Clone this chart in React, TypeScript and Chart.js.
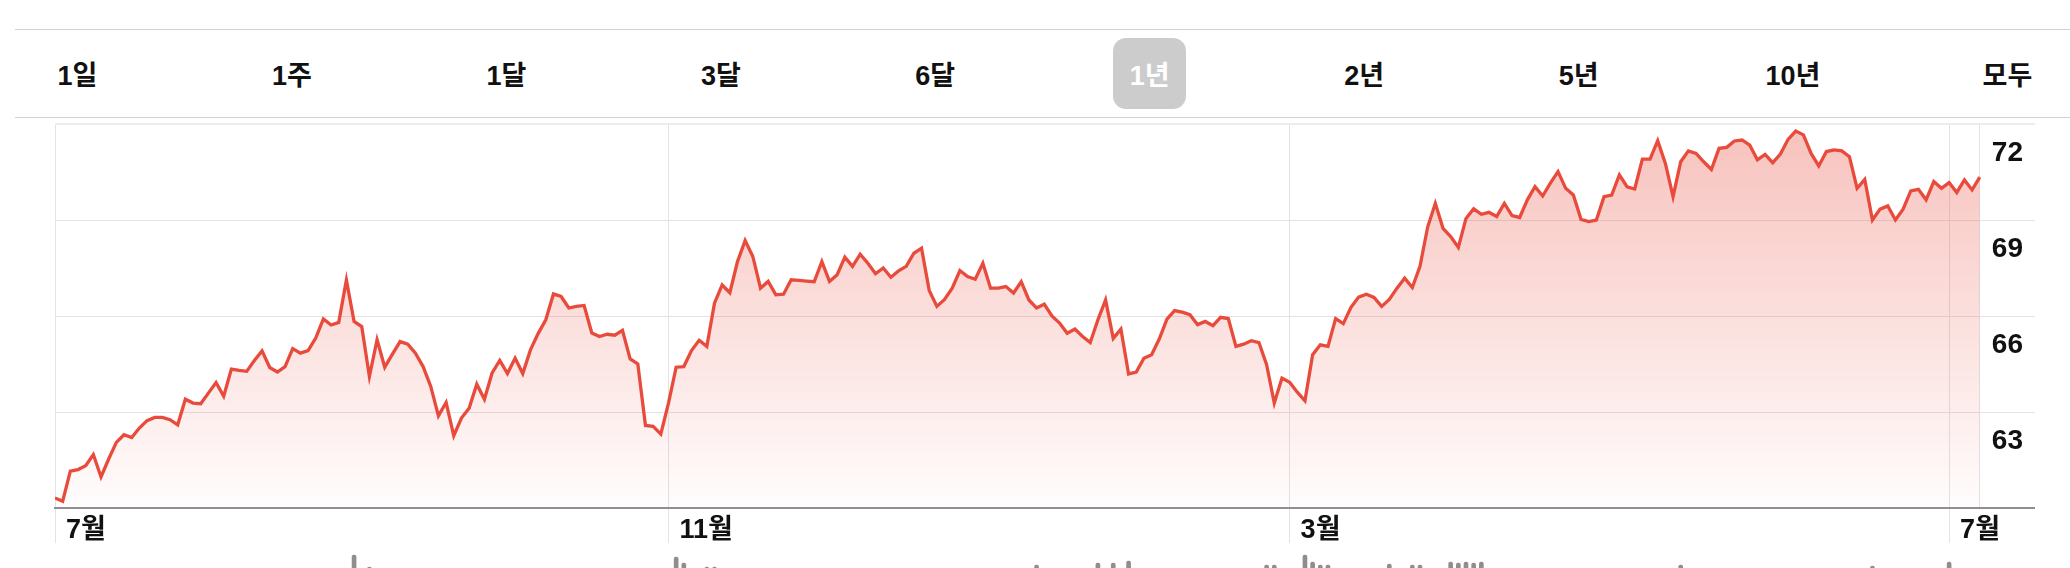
import React, { useEffect, useRef } from 'react';
import { Chart, registerables } from 'chart.js';

Chart.register(...registerables);

// ---- data ----
const prices: number[] = [
  60.31, 60.21, 61.15, 61.2, 61.32, 61.67, 60.97, 61.53, 62.05, 62.29,
  62.2, 62.5, 62.73, 62.83, 62.83, 62.76, 62.6, 63.4, 63.28, 63.26,
  63.59, 63.92, 63.49, 64.34, 64.3, 64.27, 64.61, 64.91, 64.39, 64.25,
  64.42, 64.98, 64.84, 64.92, 65.31, 65.91, 65.72, 65.8, 67.13, 65.83,
  65.67, 64.11, 65.26, 64.4, 64.81, 65.2, 65.12, 64.84, 64.42, 63.8,
  62.88, 63.3, 62.26, 62.81, 63.12, 63.87, 63.4, 64.22, 64.61, 64.2,
  64.68, 64.2, 64.94, 65.45, 65.88, 66.69, 66.61, 66.25, 66.3, 66.33,
  65.47, 65.36, 65.43, 65.4, 65.55, 64.66, 64.5, 62.58, 62.55, 62.31,
  63.28, 64.4, 64.42, 64.92, 65.24, 65.05, 66.4, 66.97, 66.73, 67.7,
  68.36, 67.86, 66.87, 67.08, 66.66, 66.68, 67.13, 67.11, 67.09, 67.07,
  67.7, 67.08, 67.29, 67.84, 67.55, 67.93, 67.65, 67.32, 67.5, 67.21,
  67.41, 67.55, 67.96, 68.12, 66.8, 66.3, 66.52, 66.87, 67.42, 67.23,
  67.15, 67.65, 66.87, 66.87, 66.92, 66.72, 67.07, 66.5, 66.25, 66.37,
  66.0, 65.78, 65.46, 65.59, 65.36, 65.17, 65.88, 66.5, 65.3, 65.59,
  64.19, 64.25, 64.68, 64.79, 65.28, 65.9, 66.17, 66.12, 66.04, 65.73,
  65.83, 65.7, 65.96, 65.92, 65.05, 65.12, 65.23, 65.17, 64.48, 63.28,
  64.06, 63.93, 63.62, 63.35, 64.79, 65.1, 65.05, 65.92, 65.76, 66.27,
  66.59, 66.68, 66.58, 66.3, 66.52, 66.87, 67.18, 66.89, 67.55, 68.78,
  69.52, 68.74, 68.48, 68.14, 69.05, 69.35, 69.18, 69.24, 69.11, 69.52,
  69.14, 69.08, 69.63, 70.04, 69.75, 70.15, 70.51, 69.99, 69.78, 69.02,
  68.95, 69.0, 69.73, 69.78, 70.41, 70.04, 69.97, 70.9, 70.9, 71.48,
  70.77, 69.73, 70.82, 71.16, 71.08, 70.82, 70.58, 71.24, 71.27, 71.47,
  71.5, 71.34, 70.88, 71.05, 70.79, 71.06, 71.52, 71.78, 71.66, 71.08,
  70.69, 71.14, 71.19, 71.16, 70.98, 69.99, 70.27, 69.0, 69.34, 69.44,
  69.0, 69.34, 69.91, 69.96, 69.63, 70.2, 69.99, 70.17, 69.86, 70.25,
  69.94, 70.34,
];

const monthTickIdx: number[] = [0, 80, 161, 247];
const monthTickLabels: string[] = ['7월', '11월', '3월', '7월'];

const yTicks: number[] = [60, 63, 66, 69, 72];
const yTickLabels: string[] = ['', '63', '66', '69', '72'];

const ranges: string[] = ['1일', '1주', '1달', '3달', '6달', '1년', '2년', '5년', '10년', '모두'];
const selectedRange = '1년';

// visible tops of the volume bars (the rest of the bars lie below the picture)
const volumeIdx: number[] = [39, 41, 81, 82, 85, 86, 128, 136, 138, 140, 158, 159, 163, 164, 165, 166, 174, 177, 178, 182, 183, 184, 185, 186, 212, 237, 247];
const volumeVal: number[] = [97, 85, 95, 89, 85, 85, 87, 89, 89, 91, 87, 87, 97, 90, 87, 87, 88, 87, 87, 90, 89, 90, 89, 90, 87, 86, 90];

const X_MAX = 258.2;
const LAST = prices.length - 1;

const FONT = '"Liberation Sans", "Noto Sans CJK KR", Arial, sans-serif';
const RED = '#e84b3c';

export default function App() {
  const mainRef = useRef<HTMLCanvasElement | null>(null);
  const volRef = useRef<HTMLCanvasElement | null>(null);

  useEffect(() => {
    const main = new Chart(mainRef.current as HTMLCanvasElement, {
      type: 'line',
      data: {
        datasets: [
          {
            data: prices.map((v, i) => ({ x: i, y: v })),
            borderColor: RED,
            borderWidth: 3.3,
            pointRadius: 0,
            tension: 0,
            fill: 'start',
            backgroundColor: (ctx: any) => {
              const area = ctx.chart.chartArea;
              if (!area) return 'rgba(232,75,60,0.2)';
              const g = ctx.chart.ctx.createLinearGradient(0, area.top, 0, area.bottom);
              g.addColorStop(0, 'rgba(232,75,60,0.34)');
              g.addColorStop(1, 'rgba(232,75,60,0.01)');
              return g;
            },
          },
        ],
      },
      options: {
        animation: false,
        responsive: false,
        layout: { padding: { top: 4, left: 4, right: 0, bottom: 0 } },
        plugins: { legend: { display: false }, tooltip: { enabled: false } },
        scales: {
          x: {
            type: 'linear',
            min: 0,
            max: X_MAX,
            afterBuildTicks: (s: any) => {
              s.ticks = [...monthTickIdx, LAST].map((v) => ({ value: v }));
            },
            afterFit: (s: any) => {
              s.height = 60;
              s.paddingLeft = 0;
              s.paddingRight = 0;
            },
            grid: {
              color: '#e3e3e3',
              lineWidth: 1,
              tickLength: 35,
              tickColor: (c: any) => (c.tick && c.tick.value === LAST ? 'rgba(0,0,0,0)' : '#e3e3e3'),
            },
            border: { display: true, color: '#8f8f8f', width: 2 },
            ticks: {
              autoSkip: false,
              maxRotation: 0,
              align: 'start',
              labelOffset: 11,
              padding: -29,
              color: '#111',
              font: { family: FONT, size: 27, weight: 'bold' },
              callback: (v: any) => {
                const k = monthTickIdx.indexOf(Number(v));
                return k >= 0 ? monthTickLabels[k] : '';
              },
            },
          },
          y: {
            position: 'right',
            min: 60,
            max: 72,
            afterBuildTicks: (s: any) => {
              s.ticks = yTicks.map((v) => ({ value: v }));
            },
            afterFit: (s: any) => {
              s.width = 0;
              s.paddingTop = 0;
              s.paddingBottom = 0;
            },
            grid: {
              color: (c: any) => (c.tick && c.tick.value === 72 ? '#ececec' : '#e3e3e3'),
              lineWidth: (c: any) => (c.tick && c.tick.value === 72 ? 2 : 1),
              drawTicks: false,
            },
            border: { display: false },
            ticks: {
              mirror: true,
              padding: -12,
              labelOffset: 29,
              color: '#111',
              font: { family: FONT, size: 28, weight: 'bold' },
              callback: (v: any) => {
                const k = yTicks.indexOf(Number(v));
                return k >= 0 ? yTickLabels[k] : '';
              },
            },
          },
        },
      },
    } as any);

    const vol = new Chart(volRef.current as HTMLCanvasElement, {
      type: 'bar',
      data: {
        datasets: [
          {
            data: volumeIdx.map((x, i) => ({ x, y: volumeVal[i] })),
            backgroundColor: '#8e8e8e',
            barThickness: 4,
            borderRadius: 2,
            borderSkipped: 'bottom',
          },
        ],
      },
      options: {
        animation: false,
        responsive: false,
        layout: { padding: 0 },
        plugins: { legend: { display: false }, tooltip: { enabled: false } },
        scales: {
          x: { type: 'linear', min: 0, max: X_MAX, offset: false, display: false },
          y: { min: 0, max: 100, display: false },
        },
      },
    } as any);

    return () => {
      main.destroy();
      vol.destroy();
    };
  }, []);

  return (
    <div
      style={{
        position: 'absolute',
        left: 0,
        top: 0,
        width: 2070,
        height: 568,
        overflow: 'hidden',
        background: '#fff',
        fontFamily: FONT,
      }}
    >
      <div style={{ position: 'absolute', left: 15, top: 29, width: 2055, height: 0, borderTop: '1px solid #d2d2d2' }} />
      <div style={{ position: 'absolute', left: 15, top: 117, width: 2055, height: 0, borderTop: '1px solid #d2d2d2' }} />
      <div
        style={{
          position: 'absolute',
          left: 41,
          top: 38,
          width: 2003,
          height: 71,
          display: 'flex',
          justifyContent: 'space-between',
          alignItems: 'center',
        }}
      >
        {ranges.map((r) => {
          const sel = r === selectedRange;
          return (
            <div
              key={r}
              style={{
                width: 73,
                height: 71,
                borderRadius: 13,
                background: sel ? '#cccccc' : 'transparent',
                color: sel ? '#fff' : '#111',
                display: 'flex',
                alignItems: 'center',
                justifyContent: 'center',
                fontSize: 27,
                fontWeight: 700,
                whiteSpace: 'nowrap',
              }}
            >
              {r}
            </div>
          );
        })}
      </div>
      <canvas
        ref={mainRef}
        width={1984}
        height={448}
        style={{ position: 'absolute', left: 51, top: 120, width: 1984, height: 448 }}
      />
      <canvas
        ref={volRef}
        width={1980}
        height={100}
        style={{ position: 'absolute', left: 55, top: 552, width: 1980, height: 100 }}
      />
    </div>
  );
}
